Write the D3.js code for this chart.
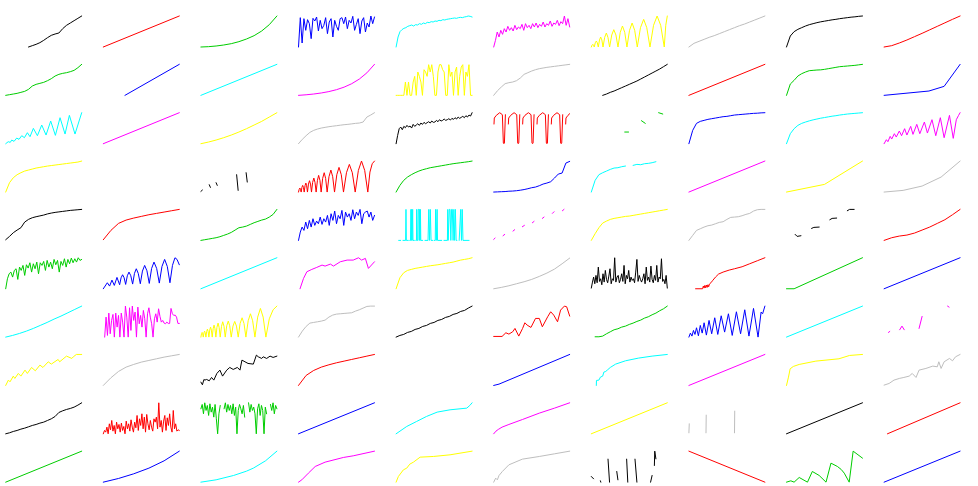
<!DOCTYPE html>
<html><head><meta charset="utf-8">
<script src="https://cdn.jsdelivr.net/npm/d3@7"></script>
<style>html,body{margin:0;padding:0;background:#fff;} svg{display:block;}</style>
</head><body><svg id="chart" width="978" height="486"></svg>
<script>
// R default palette, cycled over the 100 panels (row-major)
const palette = ["#000000","#FF0000","#00CD00","#0000FF","#00FFFF","#FF00FF","#FFFF00","#BEBEBE"];

// Each series: plain numbers = evenly spaced along the panel; [x,y] pairs = x in 0..1; null = gap.
// Values are on a common 0..93 reading scale.
const s00 = [null,null,null,null,null,null,0,4,8,13,20,28,35,39,42,55,65,72,79,86,93];
const s01 = [0,93];
const s02 = [0,1,3,6,10,16,24,34,48,67,93];
const s03 = [0,88,12,85,50,82,70,25,86,78,90,48,80,55,65,88,40,75,85,30,80,62,50,85,88,70,90,55,80,72,92,50,68,85,40,78,88,45,72,60,93,70,90];
const s04 = [0,30,46,52,56,58,62,64,66,63,67,66,70,68,72,70,74,73,76,75,78,77,80,79,82,81,83,84,85,86,87,86,88,89,88,90,91,93,92,90];
const s05 = [0,20,45,30,50,38,55,45,62,50,58,48,65,52,60,55,68,50,70,58,65,55,70,60,72,58,68,62,75,60,70,65,78,62,72,68,80,64,76,70,93,65,85,60];
const s06 = [[0,0],[0.01,5.6],[0.02,8],[0.029,5.6],[0.039,0],[0.052,12.6],[0.066,18],[0.079,12.6],[0.092,0],[0.108,21],[0.123,30],[0.139,21],[0.154,0],[0.176,29],[0.198,42],[0.219,29],[0.241,0],[0.269,36],[0.296,52],[0.324,36],[0.351,0],[0.381,44],[0.41,63],[0.44,44],[0.469,0],[0.503,50],[0.537,72],[0.571,50],[0.605,0],[0.647,58],[0.689,83],[0.73,58],[0.772,0],[0.819,65],[0.866,93],[0.913,65],[0.96,0],[0.98,65],[1,93]];
const s07 = [0,11,17,23,29,34,40,46,52,58,64,69,75,81,87,93];
const s08 = [0,33,46,53,58,63,67,70,73,75.5,77.5,79.5,81.5,83,85,86.5,88,89.5,90.5,92,93];
const s09 = [0,4,12,21,31,41,51.5,62,72.5,83,93];
const s10 = [0,2,4,6,9,12,18,28,33,36,39,44,50,58,63,66,68,71,75,83,93];
const s11 = [[0.285,0],[1,93]];
const s12 = [0,93];
const s13 = [0,1.7,4,7.1,11.3,17,24.6,34.9,48.8,67.6,93];
const s14 = [0,0,0,0,0,0,40,0,40,0,0,40,57,0,70,57,40,0,77,70,57,92,70,92,57,0,0,70,92,92,77,70,0,0,92,57,70,0,70,85,0,57,85,92,0,70,57,92,0,0];
const s15 = [0,14,25,35,38,40,44,52,63,68,73,77,80,82,84,85.5,87,88.5,90,91.5,93];
const s16 = [null,null,null,0,4,9,13,18,23,28,33,38,43,49,55,61,67,73,79,86,93];
const s17 = [0,93];
const s18 = [0,34,45,58,65,70,74,75,76,76.5,78,80,82,84,86,87,88,89,90,91.5,93];
const s19 = [[0,0],[0.59,13],[0.79,27],[1,93]];
const s20 = [[0,0],[0.033,6],[0.06,4],[0.079,11],[0.11,7],[0.145,17],[0.175,13],[0.211,24],[0.246,18],[0.285,33],[0.32,21],[0.364,46],[0.417,24],[0.474,56],[0.531,26],[0.592,68],[0.654,25],[0.715,78],[0.781,29],[0.838,85],[0.912,29],[1,93]];
const s21 = [0,93];
const s22 = [0,5,11,18,26,35,45,56,67,80,93];
const s23 = [0,13,24,34,40,44,47,49,51,52.5,54,55.5,57,58,59.5,61,62,65,80,86,93];
const s24 = [0,25,45,50,42,52,48,55,50,53,47,58,52,56,60,55,62,58,64,60,63,66,62,68,64,65,70,66,72,68,70,74,70,72,75,71,76,73,78,74,80,76,79,82,78,84,80,86,83,93];
const s25 = [[0.004,59],[0.008,77],[0.034,85],[0.079,93],[0.114,87],[0.127,2],[0.134,0],[0.141,2],[0.154,87],null,
  [0.193,59],[0.197,77],[0.223,85],[0.268,93],[0.303,87],[0.316,2],[0.323,0],[0.33,2],[0.343,87],null,
  [0.381,59],[0.385,77],[0.411,85],[0.456,93],[0.491,87],[0.504,2],[0.511,0],[0.518,2],[0.531,87],null,
  [0.57,59],[0.574,77],[0.6,85],[0.645,93],[0.68,87],[0.693,2],[0.7,0],[0.707,2],[0.72,87],null,
  [0.758,59],[0.762,77],[0.788,85],[0.833,93],[0.868,87],[0.881,2],[0.888,0],[0.895,2],[0.908,87],null,
  [0.947,59],[0.951,77],[0.977,85],[1,90]];
const s26 = [[0.44,35],[0.49,35],null,[0.66,69],[0.71,61],null,[0.886,93],[0.94,89]];
const s27 = [0,40,61,67,70,73,75,77,79,81,82,84,86,87,88,89,90,91,91.5,92.5,93];
const s28 = [0,30,45,55,61,65,68.5,71.5,74,76.5,78.5,80.5,82.5,84,86,87.5,89,90,91,92,93];
const s29 = [[0,0],[0.03,12],[0.05,6],[0.08,22],[0.1,14],[0.135,30],[0.16,20],[0.2,38],[0.23,24],[0.27,45],[0.3,26],[0.35,52],[0.38,28],[0.43,58],[0.47,30],[0.53,65],[0.57,32],[0.63,72],[0.68,24],[0.74,78],[0.79,18],[0.86,85],[0.91,16],[0.95,72],[0.98,85],[1,93]];
const s30 = [0,28,43,52,58,63,66,69,72,74,76,78,79.5,81,82.5,84,85.5,87,88.5,90,93];
const s31 = [];
const s32 = [[0,2],[0.02,6],null,[0.11,22],[0.125,14],null,[0.2,28],[0.215,20],null,[0.47,52],[0.49,5],null,[0.595,58],[0.61,30]];
const s33 = [[0,0],[0.009,8],[0.018,12],[0.026,8],[0.035,0],[0.045,14],[0.055,20],[0.065,14],[0.075,0],[0.086,19],[0.097,27],[0.107,19],[0.118,0],[0.131,24],[0.145,34],[0.158,24],[0.171,0],[0.186,29],[0.202,42],[0.217,29],[0.232,0],[0.249,35],[0.265,50],[0.282,35],[0.298,0],[0.318,41],[0.338,58],[0.357,41],[0.377,0],[0.401,46],[0.426,66],[0.45,46],[0.474,0],[0.504,52],[0.533,74],[0.563,52],[0.592,0],[0.631,58],[0.669,83],[0.708,58],[0.746,0],[0.788,65],[0.829,93],[0.871,65],[0.912,0],[0.94,60],[0.97,85],[1,93]];
const s34 = [0,20,35,45,52,58,63,67,70,73,75,77,79,81,83,85,86.5,88,89.5,91,93];
const s35 = [0,0.5,1,1.5,2.5,3,4,5.5,7.5,10,13,15,19,24,27,31,42,54,57,87,92];
const s36 = [0,35,52,58,63,68,72,73,76,78,null,80,83,82,85,86,88,91,null,null,null];
const s37 = [0,93];
const s38 = [[0,0],[0.5,23],[1,93]];
const s39 = [[0,0],[0.25,5],[0.5,18],[0.75,45],[1,93]];
const s40 = [2,12,23,31,38,55,63,68,71,73.5,76,79.5,82,84,85.5,87,88.5,90,91,92,93];
const s41 = [2,30,51,61,67,72,77,81,85,89,93];
const s42 = [0,2,4,6,8,11,15,19,24,31,38,40,43,48,53,57,61,64,70,78,93];
const s43 = [0,25,40,30,55,35,60,40,65,45,58,50,70,48,65,55,75,45,80,60,88,50,75,65,90,45,85,70,80,60,92,65,85,75,93,50,80,85,88,70,85,60,75];
const s44 = [[0.034,0],[0.06,0],null,[0.09,0],[0.125,0],[0.13,93],[0.135,0],[0.16,0],null,[0.18,0],[0.19,0],[0.195,93],[0.2,0],[0.205,93],[0.21,0],[0.218,93],[0.222,0],[0.24,0],null,
  [0.26,0],[0.268,0],[0.27,93],[0.275,0],[0.285,0],[0.29,93],[0.3,93],[0.305,0],[0.31,93],[0.315,0],[0.32,93],[0.325,0],[0.35,0],null,
  [0.38,0],[0.42,0],[0.43,93],[0.44,0],[0.45,93],[0.46,0],[0.48,0],null,[0.5,0],[0.515,0],[0.52,93],[0.53,0],[0.54,93],[0.545,0],[0.6,0],null,
  [0.63,0],[0.675,0],[0.68,93],[0.685,0],[0.7,93],[0.71,93],[0.72,0],[0.73,93],[0.74,93],[0.75,0],[0.76,93],[0.77,0],[0.78,93],[0.79,0],[0.8,0],null,
  [0.83,0],[0.85,93],[0.86,0],[0.87,93],[0.88,0],[0.96,0]];
const s45 = [[0,3],[0.018,7],null,[0.123,14],[0.145,18],null,[0.254,28],[0.276,32],null,[0.377,41],[0.404,45],null,[0.509,53],[0.531,57],null,[0.64,66],[0.662,70],null,[0.772,81],[0.794,86],null,[0.904,89],[0.925,93]];
const s46 = [0,20,38,52,58,63,66,68,70,72,73,75,77,79,81,83,85,87,89,91,93];
const s47 = [0,15,30,35,40,44,46,50,54,56,63,69,70,71,74,78,81,88,92,93,93];
const s48 = [[0.114,18],[0.14,12],[0.19,14],null,[0.33,36],[0.36,39],[0.43,40],null,[0.57,62],[0.6,66],[0.66,67],null,[0.8,89],[0.83,93],[0.89,93]];
const s49 = [0,8,13,16,22,31,40,51,62,77,93];
const s50 = [0,30,45,50,35,55,60,28,65,55,70,40,72,62,78,50,75,60,80,45,78,70,82,55,85,65,80,60,88,72,85,50,82,70,90,65,88,75,92,78,90,80,93,85,88];
const s51 = [[0,0],[0.053,18],[0.083,8],[0.114,26],[0.145,10],[0.18,34],[0.215,12],[0.234,33],[0.254,42],[0.274,33],[0.294,13],[0.316,39],[0.338,50],[0.362,39],[0.386,14],[0.41,46],[0.434,60],[0.46,46],[0.487,15],[0.515,53],[0.544,70],[0.574,54],[0.605,16],[0.636,61],[0.667,80],[0.702,61],[0.737,17],[0.772,67],[0.807,88],[0.842,67],[0.877,18],[0.91,70],[0.943,93],[0.97,88],[1,72]];
const s52 = [0,93];
const s53 = [[0.02,0],[0.066,31],[0.11,51],[0.175,58],[0.24,64],[0.31,71],[0.35,68],[0.42,74],[0.46,68],[0.55,81],[0.64,86],[0.72,86],[0.79,93],[0.83,86],[0.88,91],[0.92,61],[1,81]];
const s54 = [0,33,48,55,58,61,63,65,67,69,70.5,72,74,76,78,80,83,86,88,90,93];
const s55 = [0,4,9,15,21,28,37,47,59,75,92];
const s56 = [2,20,35,15,40,18,65,22,30,12,45,20,55,28,18,38,60,15,30,25,93,20,35,40,18,28,45,22,70,15,40,30,55,20,35,25,30,18,50,88,22,40,28,20,30,45,15,65,25,35,20,68,28,18,40,25,70,20,35,30,90,22,28,15,40,2];
const s57 = [[0.088,0],[0.18,0],[0.19,8],[0.2,2],[0.21,10],[0.22,3],[0.23,11],[0.24,4],[0.25,12],[0.26,6],[0.27,14],[0.29,18],[0.31,24],[0.35,35],[0.39,44],[0.45,50],[0.53,56],[0.6,60],[0.7,66],[0.8,75],[0.9,84],[1,93]];
const s58 = [[0,0],[0.1,0],[1,93]];
const s59 = [0,93];
const s60 = [0,5,11,18,26,35,44,54,63,73,83,93];
const s61 = [null,0,60,5,72,10,50,68,0,72,30,65,0,72,45,0,93,60,0,88,20,93,50,75,0,90,40,65,30,80,55,0,70,88,60,40,0,55,70,45,85,62,45,50,42,40,45,41,41,86,70,65,66,60,41,41];
const s62 = [[0,0],[0.008,10],[0.016,14],[0.023,10],[0.031,0],[0.04,13],[0.049,18],[0.057,13],[0.066,0],[0.076,17],[0.086,24],[0.095,17],[0.105,0],[0.116,21],[0.127,30],[0.138,21],[0.149,0],[0.161,25],[0.173,36],[0.185,25],[0.197,0],[0.211,29],[0.226,42],[0.24,29],[0.254,0],[0.271,32],[0.287,46],[0.304,32],[0.32,0],[0.34,34],[0.36,48],[0.379,34],[0.399,0],[0.422,33],[0.445,47],[0.468,33],[0.491,0],[0.516,41],[0.542,58],[0.567,41],[0.592,0],[0.622,49],[0.652,70],[0.681,49],[0.711,0],[0.747,60],[0.783,86],[0.819,60],[0.855,0],[0.9,55],[0.95,82],[1,93]];
const s63 = [0,18,32,42,44,46,48,51,60,66,69,70,71,72,73,78,82,87,92,93,93];
const s64 = [0,5,8,14,17,23,26,32,35,41,44,50,53,59,62,68,71,77,80,87,93];
const s65 = [[0,2],[0.11,2],[0.16,13],[0.2,9],[0.25,16],[0.28,26],[0.33,3],[0.38,26],[0.41,43],[0.44,36],[0.49,29],[0.55,56],[0.6,56],[0.64,31],[0.71,61],[0.75,76],[0.79,66],[0.84,46],[0.88,81],[0.93,93],[0.96,91],[1,63]];
const s66 = [null,1,1,3,10,16,22,25,30,33,38,42,47,51,57,61,67,72,79,85,93];
const s67 = [[0,0],[0.02,12],[0.04,3],[0.06,20],[0.08,8],[0.1,28],[0.125,4],[0.15,35],[0.175,12],[0.2,43],[0.23,6],[0.265,50],[0.3,10],[0.34,58],[0.38,8],[0.425,64],[0.47,15],[0.52,70],[0.57,5],[0.625,76],[0.68,10],[0.735,82],[0.79,3],[0.85,86],[0.91,0],[0.95,75],[0.97,70],[1,93]];
const s68 = [0,93];
const s69 = [[0.057,14],[0.075,17],null,[0.205,22],[0.235,33],[0.265,22],null,[0.46,26],[0.5,62],null,[0.835,93],[0.855,90]];
const s70 = [[0,0],[0.035,16],[0.057,11],[0.1,28],[0.12,21],[0.166,36],[0.2,28],[0.254,46],[0.285,36],[0.34,54],[0.39,44],[0.45,61],[0.49,54],[0.56,71],[0.6,64],[0.69,78],[0.71,71],[0.8,88],[0.87,81],[0.89,86],[0.93,93],[1,93]];
const s71 = [0,23,42,55,63,70,75,80,85,89,93];
const s72 = [[0,10],[0.02,2],[0.04,18],[0.053,16],[0.075,18],[0.11,14],[0.14,24],[0.17,16],[0.21,36],[0.25,46],[0.285,28],[0.34,46],[0.38,54],[0.425,48],[0.48,54],[0.514,46],[0.54,76],[0.58,71],[0.62,66],[0.69,64],[0.73,91],[0.755,86],[0.8,81],[0.82,86],[0.865,81],[0.91,88],[0.95,84],[1,88]];
const s73 = [0,30,45,55,62,68,73,78,83,88,93];
const s74 = [];
const s75 = [[0,0],[0.07,4],[1,93]];
const s76 = [[0.066,0],[0.068,15],[0.1,16],[0.12,25],[0.15,28],[0.165,40],[0.19,42],[0.21,46],[0.25,54],[0.32,64],[0.45,74],[0.62,82],[0.8,88],[1,93]];
const s77 = [0,93];
const s78 = [[0,0],[0.026,25],[0.048,50],[0.09,57],[0.167,63],[0.386,73],[0.69,80],[0.83,90],[1,93]];
const s79 = [[0,1],[0.066,6],[0.13,16],[0.2,21],[0.26,24],[0.33,28],[0.37,36],[0.42,24],[0.46,46],[0.55,51],[0.64,58],[0.7,56],[0.72,71],[0.75,51],[0.79,71],[0.86,81],[0.9,74],[0.94,86],[1,93]];
const s80 = [0,3,7,10,14,17,21,25,28,32,35,40,45,52,64,69,73,76,80,86,93];
const s81 = [0,10,5,20,0,30,12,40,8,25,0,35,15,28,5,32,10,22,0,38,15,30,8,42,20,5,35,18,55,10,45,25,60,15,50,5,58,30,12,40,20,8,45,35,50,15,93,20,40,5,38,55,10,48,25,60,20,5,70,15,30,8,12,10];
const s82 = [75,88,60,93,70,85,55,90,65,80,50,88,45,0,60,85,null,null,75,93,65,88,70,85,60,90,55,80,0,70,88,75,60,85,50,null,null,93,65,88,70,80,60,0,75,90,55,85,70,0,80,60,null,null,88,70,93,60,85,75];
const s83 = [0,93];
const s84 = [[0,0],[0.14,22],[0.27,37],[0.4,52],[0.54,65],[0.71,72],[0.93,77],[0.97,85],[1,93]];
const s85 = [[0,0],[0.03,8],[0.06,13],[0.11,20],[0.2,28],[0.38,43],[0.6,62],[0.8,77],[1,93]];
const s86 = [0,93];
const s87 = [[0,3],[0.005,30],null,[0.225,3],[0.228,56],null,[0.6,3],[0.603,68]];
const s88 = [0,93];
const s89 = [[0.044,0],[1,93]];
const s90 = [0,93];
const s91 = [[0,0],[0.2,11],[0.4,25],[0.6,42],[0.8,64],[1,93]];
const s92 = [[0,0],[0.2,7],[0.43,20],[0.6,33],[0.69,42],[0.85,64],[1,93]];
const s93 = [[0,0],[0.044,7],[0.13,27],[0.22,47],[0.35,60],[0.59,74],[0.72,79],[1,93]];
const s94 = [[0,0],[0.03,17],[0.096,37],[0.14,42],[0.18,54],[0.228,60],[0.316,75],[0.49,77],[0.71,82],[1,93]];
const s95 = [[0,0],[0.026,12],[0.048,7],[0.07,20],[0.114,32],[0.2,52],[0.377,69],[0.6,77],[0.8,85],[1,93]];
const s96 = [[0,17],[0.03,10],null,[0.12,4],[0.125,0],null,[0.22,69],[0.24,0],null,[0.335,32],[0.35,7],null,[0.465,69],[0.48,0],null,[0.575,69],[0.6,0],null,[0.78,0],[0.8,20],null,[0.83,50],[0.835,93],[0.85,70]];
const s97 = [93,0];
const s98 = [[0,0],[0.057,4],[0.1,0],[0.167,14],[0.276,0],[0.34,32],[0.43,20],[0.52,0],[0.585,57],[0.67,47],[0.72,38],[0.76,27],[0.825,0],[0.877,93],[1,72]];
const s99 = [0,93];

const series = [s00,s01,s02,s03,s04,s05,s06,s07,s08,s09,s10,s11,s12,s13,s14,s15,s16,s17,s18,s19,
  s20,s21,s22,s23,s24,s25,s26,s27,s28,s29,s30,s31,s32,s33,s34,s35,s36,s37,s38,s39,
  s40,s41,s42,s43,s44,s45,s46,s47,s48,s49,s50,s51,s52,s53,s54,s55,s56,s57,s58,s59,
  s60,s61,s62,s63,s64,s65,s66,s67,s68,s69,s70,s71,s72,s73,s74,s75,s76,s77,s78,s79,
  s80,s81,s82,s83,s84,s85,s86,s87,s88,s89,s90,s91,s92,s93,s94,s95,s96,s97,s98,s99];

const colStep = 97.6, rowStep = 48.35, left0 = 5.7, top0 = 16, pw = 76, ph = 31;
const svg = d3.select('#chart');

series.forEach((s, i) => {
  if (!s.length) return;
  const r = Math.floor(i / 10), c = i % 10;
  const x = d3.scaleLinear().domain([0, 1]).range([left0 + c * colStep, left0 + c * colStep + pw]);
  const y = d3.scaleLinear().domain([0, 93]).range([top0 + r * rowStep + ph, top0 + r * rowStep]);
  const n = s.length;
  const pts = s.map((v, j) => v === null ? null
    : Array.isArray(v) ? { x: v[0], y: v[1] }
    : { x: n > 1 ? j / (n - 1) : 0, y: v });
  const line = d3.line().defined(d => d !== null).x(d => x(d.x)).y(d => y(d.y));
  svg.append('path')
    .attr('d', line(pts))
    .attr('fill', 'none')
    .attr('stroke', palette[i % 8])
    .attr('stroke-width', 1)
    .attr('stroke-linejoin', 'round')
    .attr('stroke-linecap', 'round');
});
</script>
</body></html>
